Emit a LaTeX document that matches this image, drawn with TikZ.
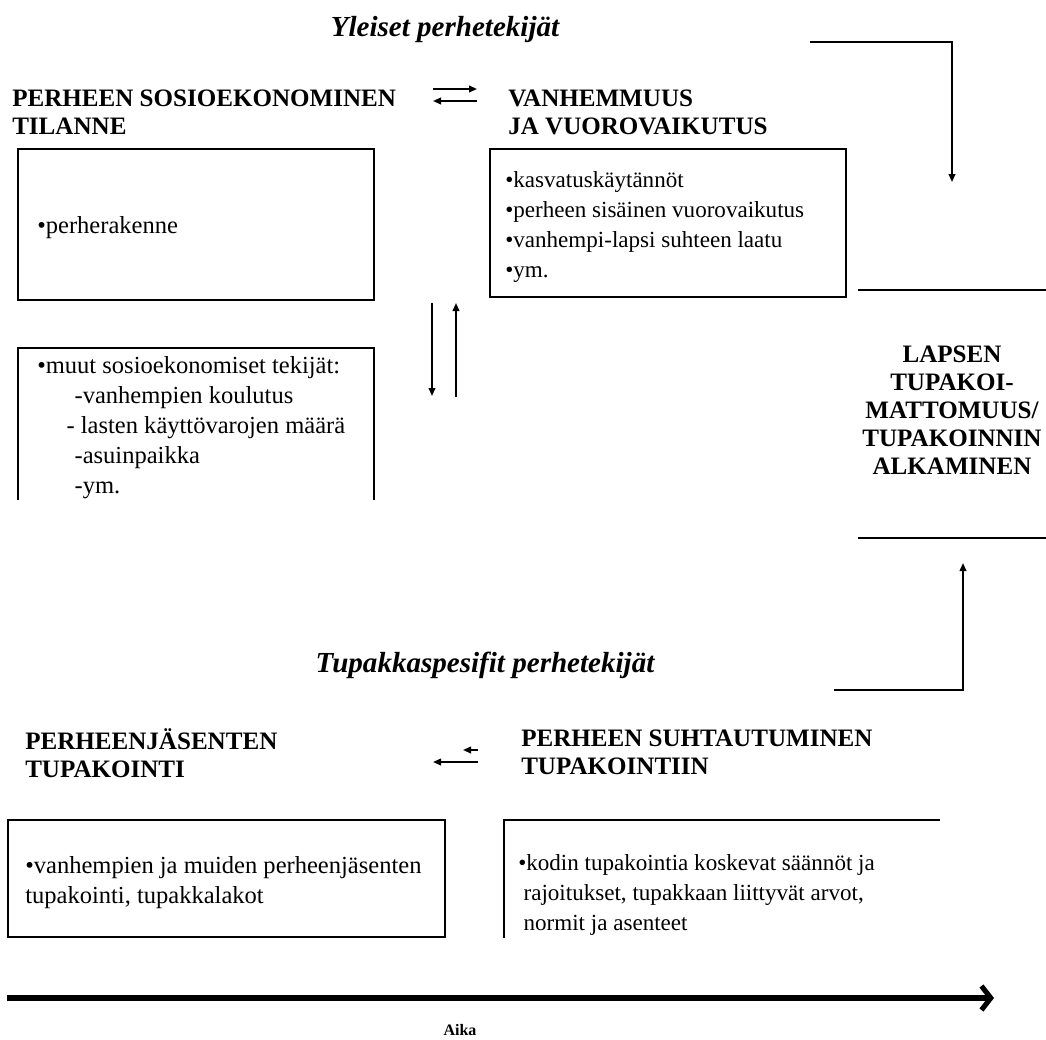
\documentclass[tikz,border=0pt]{standalone}
\usepackage{fontspec}
\setmainfont{Liberation Serif}
\usetikzlibrary{arrows.meta}
\newcommand\hdfont{\fontsize{18.8}{21}\selectfont\bfseries}
\newcommand\bdfont{\fontsize{17.3}{22.5}\selectfont}
\newcommand\bdfontiso{\fontsize{18.4}{22.5}\selectfont}
\newcommand\ttlfont{\fontsize{21.8}{26}\selectfont\bfseries\itshape}
\tikzset{
  head/.style={font=\hdfont, align=left, inner sep=0pt, anchor=north west},
  body/.style={font=\bdfont, align=left, inner sep=0pt, anchor=north west},
  bodyiso/.style={body, font=\bdfontiso},
  ttl/.style={font=\ttlfont, inner sep=0pt},
  frame/.style={line width=1.5pt},
  conn/.style={-{Triangle[length=6pt,width=5pt]}, line width=1.3pt},
  aikaviiva/.style={-{Straight Barb[length=7pt,width=18pt]}, line width=3.8pt},
}
\begin{document}
\begin{tikzpicture}[x=0.75pt,y=-0.75pt]
\useasboundingbox (0,0) rectangle (1046,1039);
% otsikot
\node[ttl] (yleiset) at (445,30) {Yleiset perhetekijät};
\node[ttl] (tupakka) at (485,665) {Tupakkaspesifit perhetekijät};
\node[head] (sosio) at (12,87) {\strut PERHEEN SOSIOEKONOMINEN\\TILANNE};
\node[head] (vanh) at (508,87) {\strut VANHEMMUUS\\JA VUOROVAIKUTUS};
\node[head] (jasenet) at (25,728) {\strut PERHEENJÄSENTEN\\TUPAKOINTI};
\node[head] (suhde) at (521,727) {\strut PERHEEN SUHTAUTUMINEN\\TUPAKOINTIIN};
% laatikot
\draw[frame] (18,149) rectangle (374,300);
\draw[frame] (490,149) rectangle (846,297);
\draw[frame] (18,500) -- (18,348) -- (374,348) -- (374,500);
\draw[frame] (8,820) rectangle (445,937);
\draw[frame] (940,820) -- (504,820) -- (504,938);
\node[bodyiso] (rakenne) at (37,212) {\strut •perherakenne};
\node[body] (kasvatus) at (505,166) {\strut •kasvatuskäytännöt\\•perheen sisäinen vuorovaikutus\\•vanhempi-lapsi suhteen laatu\\•ym.};
\node[bodyiso] (muut) at (37,352) {\strut •muut sosioekonomiset tekijät:\\\hspace*{28pt}-vanhempien koulutus\\\hspace*{22pt}- lasten käyttövarojen määrä\\\hspace*{28pt}-asuinpaikka\\\hspace*{28pt}-ym.};
\node[bodyiso] (tupakointi) at (25,852) {\strut •vanhempien ja muiden perheenjäsenten\\tupakointi, tupakkalakot};
\node[body] (saannot) at (518,849) {\strut •kodin tupakointia koskevat säännöt ja\\\hspace*{4pt}rajoitukset, tupakkaan liittyvät arvot,\\\hspace*{4pt}normit ja asenteet};
% lapsi
\draw[frame] (858,290) -- (1046,290);
\draw[frame] (858,538) -- (1046,538);
\node[font=\hdfont, align=center, inner sep=0pt] (lapsen) at (952,410) {LAPSEN\\TUPAKOI-\\MATTOMUUS/\\TUPAKOINNIN\\ALKAMINEN};
% nuolet
\coordinate (s1) at (433,89);  \coordinate (v1) at (477,89);
\coordinate (v2) at (477,101); \coordinate (s2) at (433,101);
\draw[conn] (s1) -- (v1);
\draw[conn] (v2) -- (s2);
\coordinate (ylos1) at (432,303); \coordinate (alas1) at (432,396);
\coordinate (alas2) at (456,397); \coordinate (ylos2) at (456,303);
\draw[conn] (ylos1) -- (alas1);
\draw[conn] (alas2) -- (ylos2);
\coordinate (j1) at (478,762); \coordinate (j2) at (433,762);
\coordinate (j3) at (478,750); \coordinate (j4) at (463,750);
\draw[conn] (j1) -- (j2);
\draw[conn] (j3) -- (j4);
\coordinate (yl) at (810,42);  \coordinate (ylpaa) at (952,182);
\draw[conn] (yl) -| (ylpaa);
\coordinate (tp) at (834,690); \coordinate (tppaa) at (963,563);
\draw[conn] (tp) -| (tppaa);
% aika
\coordinate (alku) at (7,998);
\coordinate (loppu) at (994,998);
\draw[aikaviiva] (alku) -- (loppu);
\node[font=\fontsize{12}{14}\selectfont\bfseries, inner sep=0pt] (aika) at (460,1030) {Aika};
\end{tikzpicture}
\end{document}
